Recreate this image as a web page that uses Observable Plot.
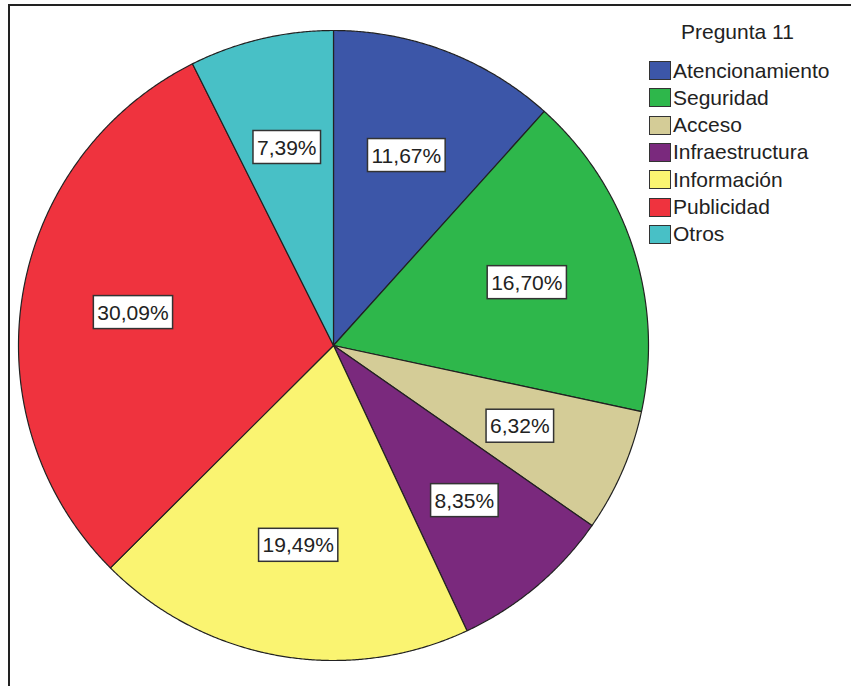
<!DOCTYPE html>
<html>
<head>
<meta charset="utf-8">
<script src="https://cdn.jsdelivr.net/npm/d3@7"></script>
<script src="https://cdn.jsdelivr.net/npm/@observablehq/plot@0.6"></script>
<style>
  html, body { margin: 0; padding: 0; background: #fff; }
  #wrap { position: relative; width: 851px; height: 686px; overflow: hidden; font-family: "Liberation Sans", Arial, sans-serif; }
  #frame { position: absolute; left: 8px; top: 4px; width: 860px; height: 700px; border-top: 2px solid #222; border-left: 2px solid #222; }
  #chart { position: absolute; left: 0; top: 0; }
  #legend { position: absolute; left: 649px; top: 20px; font-size: 21px; color: #222; }
  #legend .title { position: absolute; left: 32px; top: 0; white-space: nowrap; }
  #legend .item { position: absolute; left: 0; height: 27px; white-space: nowrap; display: flex; align-items: center; }
  #legend .sw { width: 20px; height: 17px; border: 1px solid #333; margin-right: 2px; }
</style>
</head>
<body>
<div id="wrap">
  <div id="frame"></div>
  <div id="chart"></div>
  <div id="legend"></div>
</div>
<script>
const legendTitle = "Pregunta 11";
const categories = ["Atencionamiento", "Seguridad", "Acceso", "Infraestructura", "Información", "Publicidad", "Otros"];
const values = [11.67, 16.70, 6.32, 8.35, 19.49, 30.09, 7.39];
const colors = ["#3c56a8", "#2eb74b", "#d4cc97", "#7a297d", "#faf471", "#ef333e", "#48c0c6"];

const total = d3.sum(values);
const points = [];
const labelData = [];
let cum = 0;
categories.forEach((cat, i) => {
  const a0 = cum / total * 2 * Math.PI;
  cum += values[i];
  const a1 = cum / total * 2 * Math.PI;
  const n = Math.max(2, Math.ceil((a1 - a0) / 0.005));
  points.push({cat, x: 0, y: 0});
  for (let k = 0; k <= n; k++) {
    const a = a0 + (a1 - a0) * k / n;
    points.push({cat, x: Math.sin(a), y: Math.cos(a)});
  }
  points.push({cat, x: 0, y: 0});
  const am = (a0 + a1) / 2;
  labelData.push({cat, x: 0.645 * Math.sin(am), y: 0.645 * Math.cos(am),
    text: values[i].toFixed(2).replace(".", ",") + "%"});
});

const chart = Plot.plot({
  width: 851,
  height: 686,
  margin: 0,
  style: {fontFamily: '"Liberation Sans", Arial, sans-serif', background: "transparent"},
  x: {domain: [-1, 1], range: [18, 648], axis: null},
  y: {domain: [-1, 1], range: [660, 30], axis: null},
  color: {domain: categories, range: colors},
  marks: [
    Plot.line(points, {x: "x", y: "y", z: "cat", fill: "cat", stroke: "#222", strokeWidth: 1.2, strokeLinejoin: "round"}),
    Plot.text(labelData, {x: "x", y: "y", text: "text", fontSize: 21, fill: "#222", className: "pct"})
  ]
});
document.getElementById("chart").appendChild(chart);

// white boxes behind percentage labels
d3.select(chart).selectAll("g.pct text").each(function () {
  const bb = this.getBBox();
  const cy = bb.y + bb.height / 2;
  const tr = this.getAttribute("transform");
  const r = d3.select(this.parentNode).insert("rect", () => this)
    .attr("x", bb.x - 4).attr("y", cy - 16.5)
    .attr("width", bb.width + 8).attr("height", 33)
    .attr("fill", "#fff").attr("stroke", "#333").attr("stroke-width", 1.5);
  if (tr) r.attr("transform", tr);
});

// legend
const lg = d3.select("#legend");
lg.append("div").attr("class", "title").text(legendTitle);
categories.forEach((cat, i) => {
  const it = lg.append("div").attr("class", "item").style("top", (37 + i * 27.3) + "px");
  it.append("div").attr("class", "sw").style("background", colors[i]);
  it.append("span").text(cat);
});
</script>
</body>
</html>
